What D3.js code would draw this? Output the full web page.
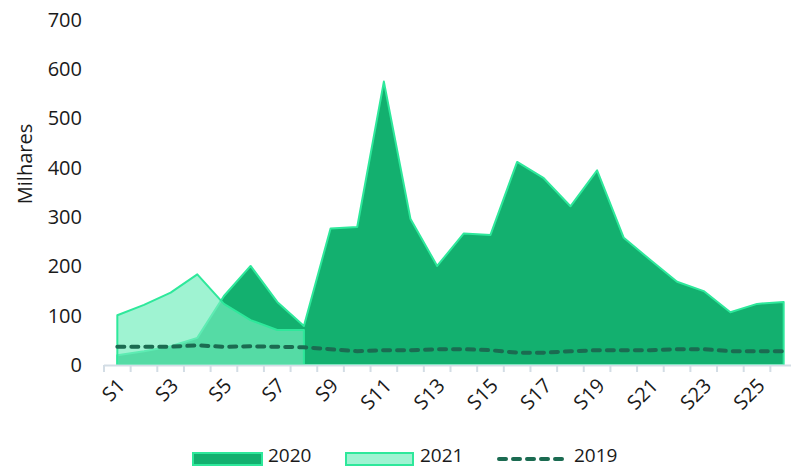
<!DOCTYPE html>
<html>
<head>
<meta charset="utf-8">
<script src="https://d3js.org/d3.v7.min.js"></script>
<style>
  body { margin: 0; background: #fff; }
  svg { display: block; font-family: "Open Sans", sans-serif; }
  .axis text { font-size: 20px; fill: #1a1a1a; }
  .legend text { font-size: 19px; fill: #1a1a1a; }
</style>
</head>
<body>
<svg width="791" height="467"></svg>
<script>
// weeks S1..S26
var weeks = ["S1","S2","S3","S4","S5","S6","S7","S8","S9","S10","S11","S12","S13",
             "S14","S15","S16","S17","S18","S19","S20","S21","S22","S23","S24","S25","S26"];
// values in thousands (Milhares)
var y2020 = [20, 28, 38, 55, 140, 201, 128, 79, 277, 280, 575, 296, 201,
             267, 264, 412, 379, 322, 395, 258, 213, 169, 150, 107, 124, 128];
var y2021 = [101, 122, 147, 184, 124, 91, 71, 71];
var y2019 = [37, 37, 37, 40, 37, 38, 37, 36, 32, 28, 30, 30, 32,
             32, 30, 25, 25, 28, 30, 30, 30, 32, 32, 28, 28, 28];
var yTicks = [0, 100, 200, 300, 400, 500, 600, 700];
var seriesNames = ["2020", "2021", "2019"];

var svg = d3.select("svg");

var x = d3.scaleBand().domain(weeks).range([104, 797]).padding(0);
var y = d3.scaleLinear().domain([0, 700]).range([365, 20]);
var cx = function (i) { return x(weeks[i]) + x.bandwidth() / 2; };

var area = d3.area()
  .x(function (d, i) { return cx(i); })
  .y0(y(0))
  .y1(function (d) { return y(d); });

var line = d3.line()
  .x(function (d, i) { return cx(i); })
  .y(function (d) { return y(d); });

// 2020 area
svg.append("path")
  .datum(y2020)
  .attr("d", area)
  .attr("fill", "#13b06f")
  .attr("stroke", "#2ee89b")
  .attr("stroke-width", 2)
  .attr("stroke-linejoin", "round");

// 2021 area (on top, translucent)
svg.append("path")
  .datum(y2021)
  .attr("d", area)
  .attr("fill", "rgb(116,238,190)")
  .attr("fill-opacity", 0.69)
  .attr("stroke", "#2ee89b")
  .attr("stroke-width", 2)
  .attr("stroke-linejoin", "round");

// 2019 dashed line
svg.append("path")
  .datum(y2019)
  .attr("d", line)
  .attr("fill", "none")
  .attr("stroke", "#1b6b51")
  .attr("stroke-width", 4)
  .attr("stroke-dasharray", "7,7")
  .attr("stroke-linecap", "round");

// x axis
var xAxis = svg.append("g").attr("class", "axis");
xAxis.append("line")
  .attr("x1", x.range()[0]).attr("x2", x.range()[1])
  .attr("y1", y(0) + 0.5).attr("y2", y(0) + 0.5)
  .attr("stroke", "#d3dde5").attr("stroke-width", 2);
xAxis.selectAll(".tk")
  .data(weeks)
  .enter().append("line")
  .attr("x1", function (d) { return x(d); })
  .attr("x2", function (d) { return x(d); })
  .attr("y1", y(0)).attr("y2", y(0) + 7)
  .attr("stroke", "#d3dde5").attr("stroke-width", 2);
xAxis.selectAll(".xl")
  .data(weeks.filter(function (d, i) { return i % 2 === 0; }))
  .enter().append("text")
  .attr("text-anchor", "end")
  .attr("transform", function (d) {
    return "translate(" + (x(d) + x.bandwidth() / 2 + 4) + "," + 382 + ") rotate(-45)";
  })
  .attr("dy", "0.35em")
  .text(function (d) { return d; });

// y axis
var yAxis = svg.append("g")
  .attr("class", "axis")
  .attr("transform", "translate(104,0)")
  .call(d3.axisLeft(y).tickValues(yTicks).tickSize(0).tickPadding(22));
yAxis.select(".domain").remove();
yAxis.selectAll("text").style("font-family", "Open Sans").style("font-size", "20px").attr("fill", "#1a1a1a");

svg.append("text")
  .attr("transform", "translate(25,164) rotate(-90)")
  .attr("text-anchor", "middle")
  .attr("dy", "0.35em")
  .style("font-size", "20px")
  .attr("fill", "#1a1a1a")
  .text("Milhares");

// legend
var legend = svg.append("g").attr("class", "legend");
legend.append("rect")
  .attr("x", 193).attr("y", 453).attr("width", 69).attr("height", 12)
  .attr("fill", "#13b06f").attr("stroke", "#2ee89b").attr("stroke-width", 2);
legend.append("text").attr("x", 268).attr("y", 462).text(seriesNames[0]);
legend.append("rect")
  .attr("x", 346).attr("y", 453).attr("width", 67).attr("height", 12)
  .attr("fill", "rgb(116,238,190)").attr("fill-opacity", 0.69)
  .attr("stroke", "#2ee89b").attr("stroke-width", 2);
legend.append("text").attr("x", 420).attr("y", 462).text(seriesNames[1]);
legend.append("line")
  .attr("x1", 499).attr("x2", 566).attr("y1", 459).attr("y2", 459)
  .attr("stroke", "#1b6b51").attr("stroke-width", 4)
  .attr("stroke-dasharray", "7,7").attr("stroke-linecap", "round");
legend.append("text").attr("x", 574).attr("y", 462).text(seriesNames[2]);
</script>
</body>
</html>
